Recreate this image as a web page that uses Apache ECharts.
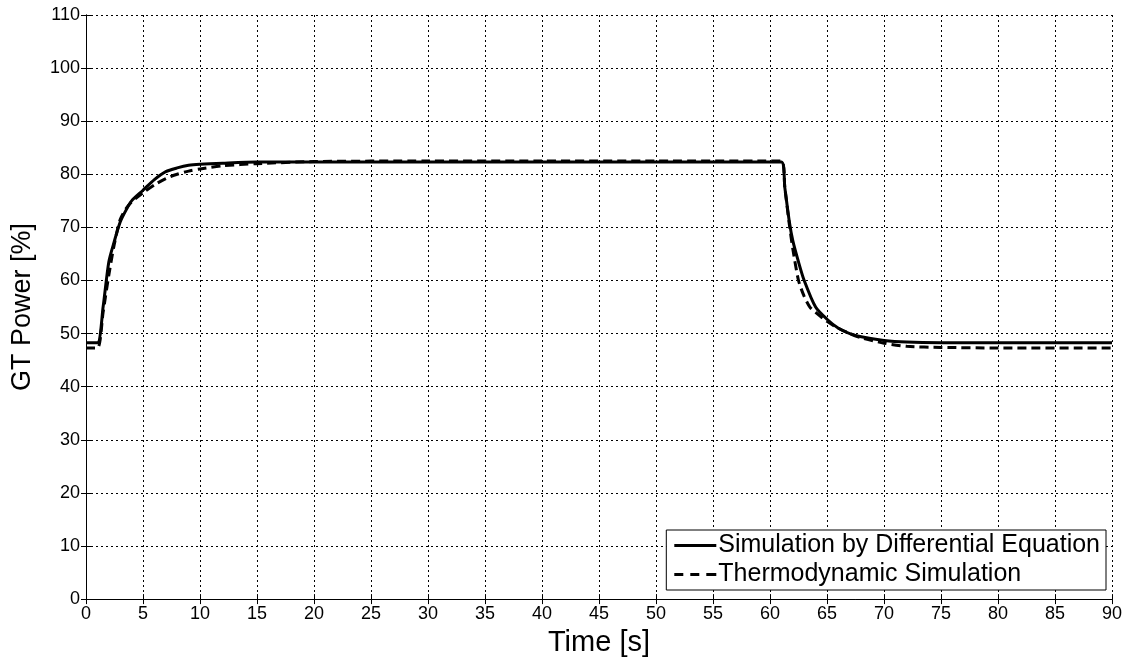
<!DOCTYPE html>
<html>
<head>
<meta charset="utf-8">
<script src="https://cdn.jsdelivr.net/npm/echarts@6/dist/echarts.min.js"></script>
<style>
  html, body { margin: 0; padding: 0; background: #fff; }
  #main { width: 1130px; height: 662px; }
</style>
</head>
<body>
<div id="main"></div>
<script>
// 时间轴 (s)
var timeSim = [0, 1, 1.5, 2, 2.5, 3, 3.5, 4, 5, 6, 7, 8, 9, 10, 12, 15, 20, 30, 40, 50, 61,
  61.3, 61.7, 62, 62.5, 63, 64, 65, 66, 67, 68, 70, 72, 75, 80, 90];
// 微分方程仿真
var powerSim = [48.3, 48.3, 55, 63.5, 67.5, 71, 73.2, 75, 77, 79, 80.5, 81.2, 81.7, 81.9, 82.1, 82.3, 82.3, 82.3, 82.3, 82.3, 82.3,
  77.5, 71, 67.5, 63.5, 60, 55, 52.7, 51, 50, 49.4, 48.7, 48.4, 48.3, 48.3, 48.3];

var timeThermo = [0, 1, 1.5, 2, 2.5, 3, 3.5, 4, 5, 6, 7, 8, 9, 10, 12, 15, 20, 30, 40, 50, 61,
  61.3, 61.7, 62, 62.5, 63, 63.5, 64, 65, 66, 67, 68, 70, 72, 75, 80, 90];
// 热力学仿真
var powerThermo = [47.3, 47.3, 54, 61, 67, 71.5, 73.5, 74.8, 76.5, 78, 79.2, 80, 80.6, 81, 81.6, 82, 82.4, 82.5, 82.5, 82.5, 82.5,
  77.5, 70.5, 66, 60, 57, 55, 54, 52.3, 51, 50, 49.2, 48.2, 47.6, 47.4, 47.3, 47.3];

var xTicks = { min: 0, max: 90, interval: 5 };
var yTicks = { min: 0, max: 110, interval: 10 };

function pairs(xs, ys) {
  var out = [];
  for (var i = 0; i < xs.length; i++) out.push([xs[i], ys[i]]);
  return out;
}

var chart = echarts.init(document.getElementById('main'));
var font = 'Liberation Sans, Arial, sans-serif';
var gridLine = { show: true, lineStyle: { color: '#000', type: [2, 3], width: 1 } };
// 图例里的线段
var solidIcon = 'path://M0,0H42V3H0Z';
var dashIcon = 'path://M0,0H9V3H0Z M16,0H25V3H16Z M32,0H42V3H32Z';

var option = {
  animation: false,
  textStyle: { fontFamily: font },
  grid: { left: 86, right: 18, top: 15, bottom: 61 },
  legend: {
    orient: 'vertical',
    right: 24,
    bottom: 72,
    backgroundColor: '#fff',
    borderColor: '#000',
    borderWidth: 1,
    borderRadius: 0,
    padding: [3, 6, 3, 8],
    itemGap: 4,
    itemWidth: 42,
    itemHeight: 3,
    textStyle: { fontFamily: font, fontSize: 25, color: '#000', padding: [0, 0, 0, -3] },
    data: [
      { name: 'Simulation by Differential Equation', icon: solidIcon },
      { name: 'Thermodynamic Simulation', icon: dashIcon }
    ]
  },
  xAxis: [{
    type: 'value',
    min: xTicks.min, max: xTicks.max, interval: xTicks.interval,
    name: 'Time [s]',
    nameLocation: 'middle',
    nameGap: 27,
    nameTextStyle: { fontFamily: font, fontSize: 29, color: '#000' },
    axisLine: { show: true, onZero: false, lineStyle: { color: '#000', width: 1 } },
    axisTick: { show: true, inside: true, length: 5, lineStyle: { color: '#000' } },
    axisLabel: { fontFamily: font, fontSize: 18, color: '#000', margin: 6 },
    splitLine: gridLine
  }, {
    type: 'value', position: 'top',
    min: xTicks.min, max: xTicks.max, interval: xTicks.interval,
    axisLine: { show: true, lineStyle: { color: '#000', width: 1 } },
    axisTick: { show: true, inside: true, length: 5, lineStyle: { color: '#000' } },
    axisLabel: { show: false },
    splitLine: { show: false }
  }],
  yAxis: [{
    type: 'value',
    min: yTicks.min, max: yTicks.max, interval: yTicks.interval,
    name: 'GT Power [%]',
    nameLocation: 'middle',
    nameGap: 50,
    nameTextStyle: { fontFamily: font, fontSize: 27, color: '#000' },
    axisLine: { show: true, onZero: false, lineStyle: { color: '#000', width: 1 } },
    axisTick: { show: true, inside: true, length: 5, lineStyle: { color: '#000' } },
    axisLabel: { fontFamily: font, fontSize: 18, color: '#000', margin: 6 },
    splitLine: gridLine
  }, {
    type: 'value', position: 'right',
    min: yTicks.min, max: yTicks.max, interval: yTicks.interval,
    axisLine: { show: true, lineStyle: { color: '#000', width: 1 } },
    axisTick: { show: true, inside: true, length: 5, lineStyle: { color: '#000' } },
    axisLabel: { show: false },
    splitLine: { show: false }
  }],
  series: [{
    name: 'Simulation by Differential Equation',
    type: 'line',
    symbol: 'none',
    smooth: 0.25,
    data: pairs(timeSim, powerSim),
    itemStyle: { color: '#000' },
    lineStyle: { color: '#000', width: 3 },
    z: 3
  }, {
    name: 'Thermodynamic Simulation',
    type: 'line',
    symbol: 'none',
    smooth: 0.25,
    data: pairs(timeThermo, powerThermo),
    itemStyle: { color: '#000' },
    lineStyle: { color: '#000', width: 3, type: [9, 5] },
    z: 2
  }]
};
chart.setOption(option);
</script>
</body>
</html>
